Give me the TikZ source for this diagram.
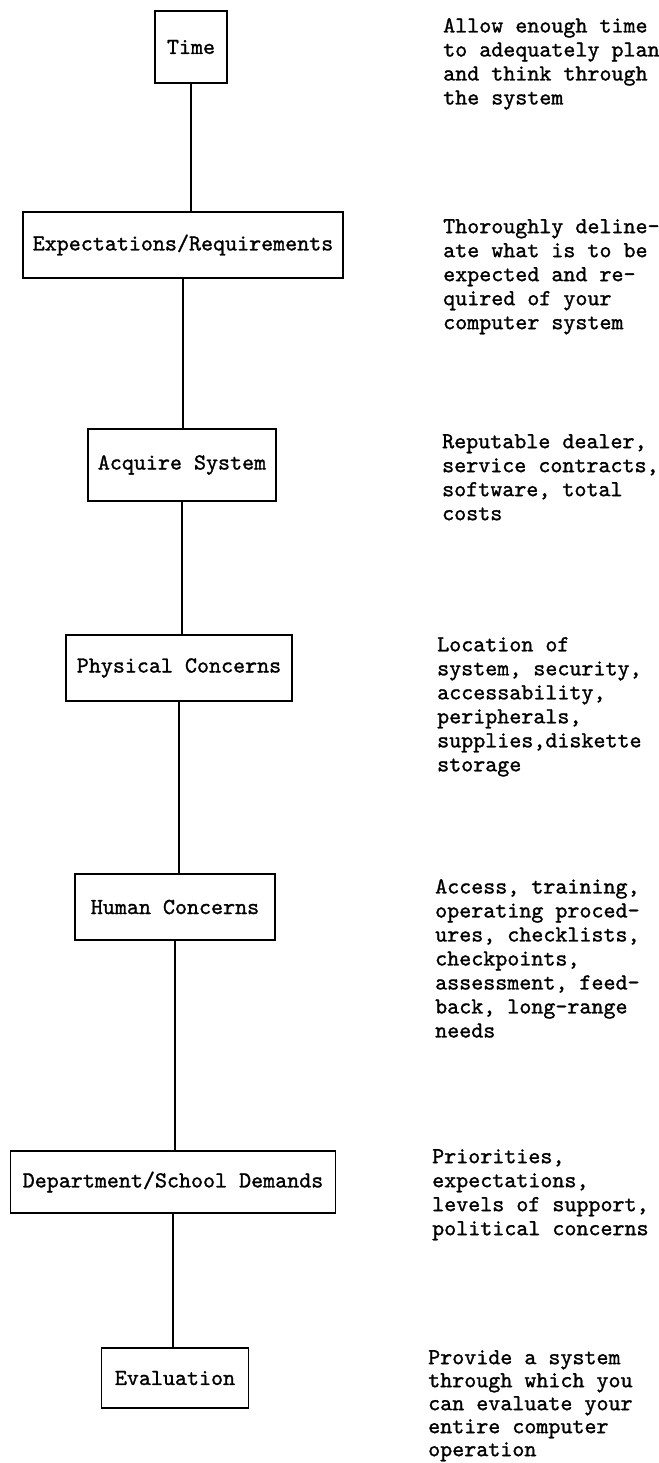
\documentclass[tikz,border=0pt]{standalone}
\usepackage{fontspec}
\usepackage{tikz}
\usetikzlibrary{positioning}
\newfontfamily\typed[FakeBold=1.2]{lmmono10-regular.otf}

\begin{document}
\begin{tikzpicture}[x=1pt, y=-1pt]
    \tikzstyle{stage} = [rectangle, draw=black, line width=1.6pt, inner xsep=10pt, minimum height=66pt, font=\fontsize{22.9}{24}\typed]
    \tikzstyle{note} = [anchor=north west, inner sep=0pt, align=left, font=\fontsize{22.9}{24}\typed]
    \tikzstyle{link} = [line width=1.6pt]

    \useasboundingbox (0,0) rectangle (658,1463);

    \node[stage, minimum width=72pt, minimum height=72pt] (time) at (191,47) {Time};
    \node[stage, minimum width=315pt] (expect) at (183,245) {Expectations/Requirements};
    \node[stage, minimum width=182pt, minimum height=72pt] (acquire) at (182,465) {Acquire System};
    \node[stage, minimum width=226pt] (physical) at (179,668) {Physical Concerns};
    \node[stage, minimum width=200pt] (human) at (175,907) {Human Concerns};
    \node[stage, minimum width=325pt, minimum height=62pt] (dept) at (173,1182) {Department/School Demands};
    \node[stage, minimum width=147pt, minimum height=60pt] (eval) at (175,1378) {Evaluation};

    \node[note] (timenote) at (443,18) {Allow enough time\\to adequately plan\\and think through\\the system};
    \node[note] (expectnote) at (443,219) {Thoroughly deline-\\ate what is to be\\expected and re-\\quired of your\\computer system};
    \node[note] (acquirenote) at (442,434) {Reputable dealer,\\service contracts,\\software, total\\costs};
    \node[note] (physicalnote) at (437,637) {Location of\\system, security,\\accessability,\\peripherals,\\supplies,diskette\\storage};
    \node[note] (humannote) at (435,879) {Access, training,\\operating proced-\\ures, checklists,\\checkpoints,\\assessment, feed-\\back, long-range\\needs};
    \node[note] (deptnote) at (432,1149) {Priorities,\\expectations,\\levels of support,\\political concerns};
    \node[note, font=\fontsize{22.9}{23}\typed] (evalnote) at (428,1350) {Provide a system\\through which you\\can evaluate your\\entire computer\\operation};

    \draw[link] (time.south) -- (time.south |- expect.north);
    \draw[link] (expect.south) -- (expect.south |- acquire.north);
    \draw[link] (acquire.south) -- (acquire.south |- physical.north);
    \draw[link] (physical.south) -- (physical.south |- human.north);
    \draw[link] (human.south) -- (human.south |- dept.north);
    \draw[link] (dept.south) -- (dept.south |- eval.north);
\end{tikzpicture}
\end{document}
